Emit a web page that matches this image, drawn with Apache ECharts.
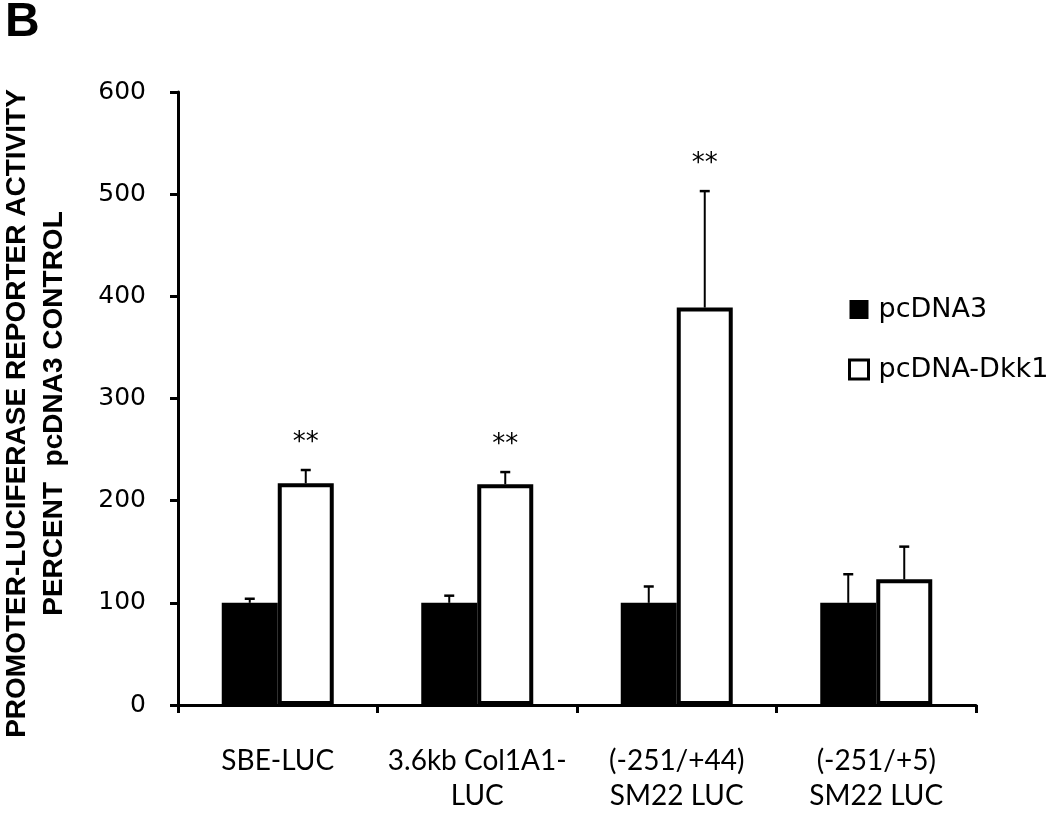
<!DOCTYPE html>
<html>
<head>
<meta charset="utf-8">
<script src="https://cdn.jsdelivr.net/npm/echarts@6/dist/echarts.min.js"></script>
<style>
  html, body { margin: 0; background: #fff; }
  #chart { width: 1050px; height: 813px; }
</style>
</head>
<body>
<div id="chart"></div>
<script>
const categories = ["SBE-LUC", "3.6kb Col1A1-\nLUC", "(-251/+44)\nSM22 LUC", "(-251/+5)\nSM22 LUC"];
const pcdna3 = [100, 100, 100, 100];
const pcdna3Upper = [104, 107, 116, 128];
const dkk1 = [217, 216, 389, 123];
const dkk1Upper = [230, 228, 503, 155];
const dkk1Marks = ["**", "**", "**", ""];
const yMin = 0, yMax = 600, yStep = 100;

const BAR_W = 56;

// upward-only error bars, drawn over the centre of each bar
function errorBars(name, means, uppers, marks, side) {
  return {
    type: "custom",
    name: name,
    silent: true,
    z: 5,
    data: means.map((m, i) => [i, m, uppers[i]]),
    encode: { x: 0, y: [1, 2] },
    renderItem(params, api) {
      const i = api.value(0);
      const base = api.coord([i, api.value(1)]);
      const top = api.coord([i, api.value(2)]);
      const x = base[0] + side * BAR_W / 2;
      const children = [
        { type: "line", shape: { x1: x, y1: base[1], x2: x, y2: top[1] }, style: { stroke: "#000", lineWidth: 2 } },
        { type: "line", shape: { x1: x - 5, y1: top[1], x2: x + 5, y2: top[1] }, style: { stroke: "#000", lineWidth: 2.5 } }
      ];
      const mark = marks ? marks[params.dataIndex] : "";
      if (mark) {
        children.push({
          type: "text",
          style: {
            text: mark, x: x, y: top[1] - 27,
            align: "center", verticalAlign: "middle",
            textAlign: "center", textVerticalAlign: "middle",
            fontSize: 26, fontFamily: "DejaVu Sans", fill: "#000"
          }
        });
      }
      return { type: "group", children: children };
    }
  };
}

const chart = echarts.init(document.getElementById("chart"));
chart.setOption({
  animation: false,
  backgroundColor: "#fff",
  title: {
    text: "B", left: 0, top: -6,
    textStyle: { fontFamily: "Liberation Sans", fontWeight: "bold", fontSize: 48, color: "#000" }
  },
  legend: {
    orient: "vertical", left: 843, top: 291,
    itemWidth: 19, itemHeight: 19, itemGap: 33,
    textStyle: { fontFamily: "DejaVu Sans", fontSize: 27, color: "#000", padding: [0, 0, 0, 5] },
    data: [
      { name: "pcDNA3", icon: "rect", itemStyle: { color: "#000", borderWidth: 0 } },
      { name: "pcDNA-Dkk1", icon: "rect", itemStyle: { color: "#fff", borderColor: "#000", borderWidth: 3 } }
    ]
  },
  grid: { left: 178, right: 74, top: 92, bottom: 108, outerBoundsMode: "none" },
  xAxis: {
    type: "category",
    data: categories,
    axisLine: { lineStyle: { color: "#000", width: 3 } },
    axisTick: { show: true, length: 8, lineStyle: { color: "#000", width: 3 } },
    axisLabel: {
      color: "#000", fontFamily: "Lato", fontSize: 28, lineHeight: 35,
      margin: 38, interval: 0
    }
  },
  yAxis: {
    type: "value",
    min: yMin, max: yMax, interval: yStep,
    name: "PROMOTER-LUCIFERASE REPORTER ACTIVITY\nPERCENT  pcDNA3 CONTROL",
    nameLocation: "middle", nameRotate: 90, nameGap: 105,
    nameTextStyle: {
      fontFamily: "Liberation Sans", fontWeight: "bold",
      fontSize: 28, lineHeight: 37, color: "#000", align: "center",
      padding: [0, 30, 0, 0]
    },
    splitLine: { show: false },
    axisLine: { show: true, lineStyle: { color: "#000", width: 3 } },
    axisTick: { show: true, length: 8, lineStyle: { color: "#000", width: 3 } },
    axisLabel: { color: "#000", fontFamily: "DejaVu Sans", fontSize: 25, margin: 32 }
  },
  series: [
    {
      name: "pcDNA3", type: "bar", data: pcdna3,
      barWidth: BAR_W, barGap: "0%",
      itemStyle: { color: "#000" }
    },
    {
      name: "pcDNA-Dkk1", type: "bar", data: dkk1,
      barWidth: BAR_W, barGap: "0%",
      itemStyle: { color: "#fff", borderColor: "#000", borderWidth: 4 }
    },
    errorBars("pcDNA3 err", pcdna3, pcdna3Upper, null, -1),
    errorBars("pcDNA-Dkk1 err", dkk1, dkk1Upper, dkk1Marks, 1)
  ]
});
window.addEventListener("resize", () => chart.resize());
</script>
</body>
</html>
